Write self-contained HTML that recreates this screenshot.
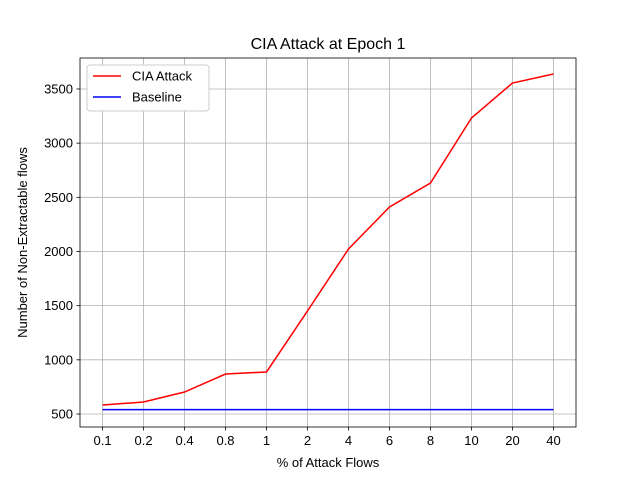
<!DOCTYPE html>
<html><head><meta charset="utf-8"><style>body{margin:0;background:#fff}svg{display:block;font-family:"Liberation Sans",sans-serif}</style></head>
<body>
<svg id="c" width="640" height="480"></svg>
<script>
const categories=["0.1","0.2","0.4","0.8","1","2","4","6","8","10","20","40"];
const ciaValues=[583,611,703,869,888,1451,2023,2411,2632,3232,3555,3638];
const baselineValues=[540,540,540,540,540,540,540,540,540,540,540,540];
const yTicks=[500,1000,1500,2000,2500,3000,3500];
const L=80,R=576,T=58,B=427;
const yMin=380,yMax=3786;
const xs=i=>L+(i+0.55)/12.1*(R-L);
const ys=v=>B-(v-yMin)/(yMax-yMin)*(B-T);
const svg=document.getElementById('c');
const NS='http://www.w3.org/2000/svg';
function mk(tag,attrs,parent){const e=document.createElementNS(NS,tag);for(const k in attrs)e.setAttribute(k,attrs[k]);(parent||svg).appendChild(e);return e;}
const grid=mk('g',{});


categories.forEach((c,i)=>{
  const x=xs(i);
  mk('line',{x1:x,x2:x,y1:T,y2:B,stroke:'#b0b0b0','stroke-width':0.8},grid);
  mk('line',{x1:x,x2:x,y1:B,y2:B+3.5,stroke:'#000','stroke-width':0.8});
  const t=mk('text',{x:x,y:B+18,'text-anchor':'middle','font-size':13});
  t.textContent=c;
  
  
});
yTicks.forEach(v=>{
  const y=ys(v);
  mk('line',{x1:L,x2:R,y1:y,y2:y,stroke:'#b0b0b0','stroke-width':0.8},grid);
  mk('line',{x1:L-3.5,x2:L,y1:y,y2:y,stroke:'#000','stroke-width':0.8});
  const t=mk('text',{x:L-7,y:y+4.5,'text-anchor':'end','font-size':13});
  t.textContent=v;
  
  
});
function line(vals,color,name){
  const p=mk('polyline',{points:vals.map((v,i)=>xs(i)+','+ys(v)).join(' '),fill:'none',stroke:color,'stroke-width':1.5});
  
  
}
line(ciaValues,'#ff0000','cia-attack-line');
line(baselineValues,'#0000ff','baseline-line');
const fr=mk('rect',{x:L,y:T,width:R-L,height:B-T,fill:'none',stroke:'#000','stroke-width':0.8});


const title=mk('text',{x:(L+R)/2,y:49,'text-anchor':'middle','font-size':16});
title.textContent='CIA Attack at Epoch 1';


const xt=mk('text',{x:(L+R)/2,y:467,'text-anchor':'middle','font-size':13});
xt.textContent='% of Attack Flows';


const yt=mk('text',{x:0,y:0,'text-anchor':'middle','font-size':13,transform:'translate(27,'+((T+B)/2)+') rotate(-90)'});
yt.textContent='Number of Non-Extractable flows';


const lg=mk('g',{});


mk('rect',{x:87,y:65,width:122,height:46,rx:3,fill:'#fff',stroke:'#ccc','stroke-width':1},lg);
[['CIA Attack','#ff0000',76],['Baseline','#0000ff',97]].forEach(([n,c,y])=>{
  mk('line',{x1:93,x2:121,y1:y,y2:y,stroke:c,'stroke-width':1.5},lg);
  const t=mk('text',{x:132,y:y+4.5,'font-size':13},lg);
  t.textContent=n;
  
  
});
</script>
</body></html>
